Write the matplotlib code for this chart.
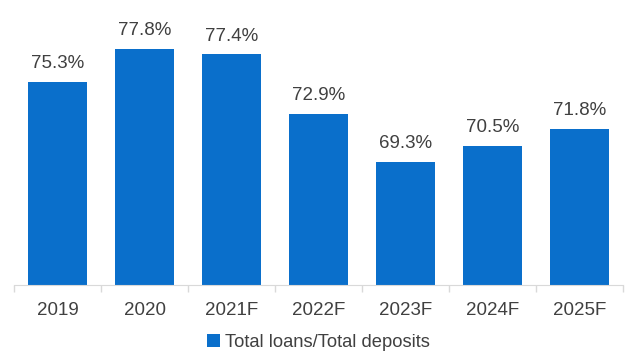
import numpy as np
import matplotlib.pyplot as plt

plt.rcParams['font.family'] = ['Liberation Sans', 'DejaVu Sans']

# data
years = ["2019", "2020", "2021F", "2022F", "2023F", "2024F", "2025F"]
ratio = [75.3, 77.8, 77.4, 72.9, 69.3, 70.5, 71.8]

blue = "#0A6FCB"
txt = "#404040"

fig = plt.figure(figsize=(6.25, 3.54), dpi=100)
ax = fig.add_axes([0.0224, 0.195, 0.975, 0.749])

x = np.arange(len(years))
bars = ax.bar(x, ratio, 0.68, color=blue, label="Total loans/Total deposits")

for xi, v in zip(x, ratio):
    ax.annotate(f"{v:.1f}%", (xi, v), xytext=(0, 7), textcoords="offset points",
                ha="center", va="bottom", fontsize=13.5, color=txt)

ax.set_xlim(-0.5, len(years) - 0.5)
ax.set_ylim(60, 80)
ax.set_xticks(x)
ax.set_xticklabels(years, fontsize=13.5, color=txt)
ax.set_xticks(np.arange(len(years) + 1) - 0.5, minor=True)
ax.tick_params(axis="x", which="major", length=0, pad=12)
ax.tick_params(axis="x", which="minor", length=5, color="#D9D9D9", width=1)
ax.set_yticks([])
for s in ["top", "left", "right"]:
    ax.spines[s].set_visible(False)
ax.spines["bottom"].set_color("#D9D9D9")

fig.legend(loc="center", bbox_to_anchor=(0.51, 0.033), frameon=False,
           fontsize=13.2, labelcolor=txt, handlelength=0.7, handleheight=0.7,
           handletextpad=0.3)

fig.savefig("out.png", dpi=100)
